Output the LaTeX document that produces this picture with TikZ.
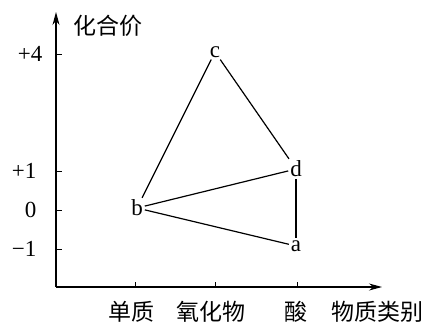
\documentclass[tikz,border=0pt]{standalone}
\usepackage{fontspec}
\setmainfont{Liberation Serif}
\newfontfamily\cjk{Noto Sans CJK SC}[Scale=1]
\usetikzlibrary{arrows.meta}
\begin{document}
\begin{tikzpicture}[x=1pt,y=-1pt,
  line width=1.1pt,
  axisline/.style={line width=1.1pt,-{Stealth[length=13pt,width=7pt]}},
  tickline/.style={line width=0.8pt},
  conn/.style={line width=1.2pt},
  ptlabel/.style={font=\fontsize{23}{25}\selectfont, inner sep=1.5pt},
  ylab/.style={font=\fontsize{23}{25}\selectfont, anchor=east, inner sep=0pt},
  cjklab/.style={font=\cjk\fontsize{23}{25}\selectfont, inner sep=0pt}]
\useasboundingbox (0,0) rectangle (430,327);
% axes
\coordinate (O) at (56,287);
\coordinate (ytip) at (56,12);
\coordinate (xtip) at (382,287);
\draw[axisline] (O) -- (ytip);
\draw[axisline] (O) -- (xtip);
% y ticks
\foreach \yy in {54,171,210,249} \draw[tickline] (56,\yy) -- (62,\yy);
\node[ylab] (l4) at (43,54) {+4};
\node[ylab] (l1) at (37,171) {+1};
\node[ylab] (l0) at (37,210) {0};
\node[ylab] (lm1) at (37,249) {−1};
% x ticks
\foreach \xx in {135,215,297} \draw[tickline] (\xx,287) -- (\xx,282);
\node[cjklab] (yt) at (108,26) {化合价};
\node[cjklab] (x1) at (131,312) {单质};
\node[cjklab] (x2) at (211,312) {氧化物};
\node[cjklab] (x3) at (296,312) {酸};
\node[cjklab] (x4) at (377,312) {物质类别};
% points
\node[ptlabel] (c) at (215,52) {c};
\node[ptlabel] (b) at (137,208) {b};
\node[ptlabel] (d) at (296,169) {d};
\node[ptlabel] (a) at (296,246) {a};
\draw[conn] (c) -- (b);
\draw[conn] (c) -- (d);
\draw[conn] (b) -- (d);
\draw[conn] (b) -- (a);
\draw[conn] (d) -- (a);
\end{tikzpicture}
\end{document}
